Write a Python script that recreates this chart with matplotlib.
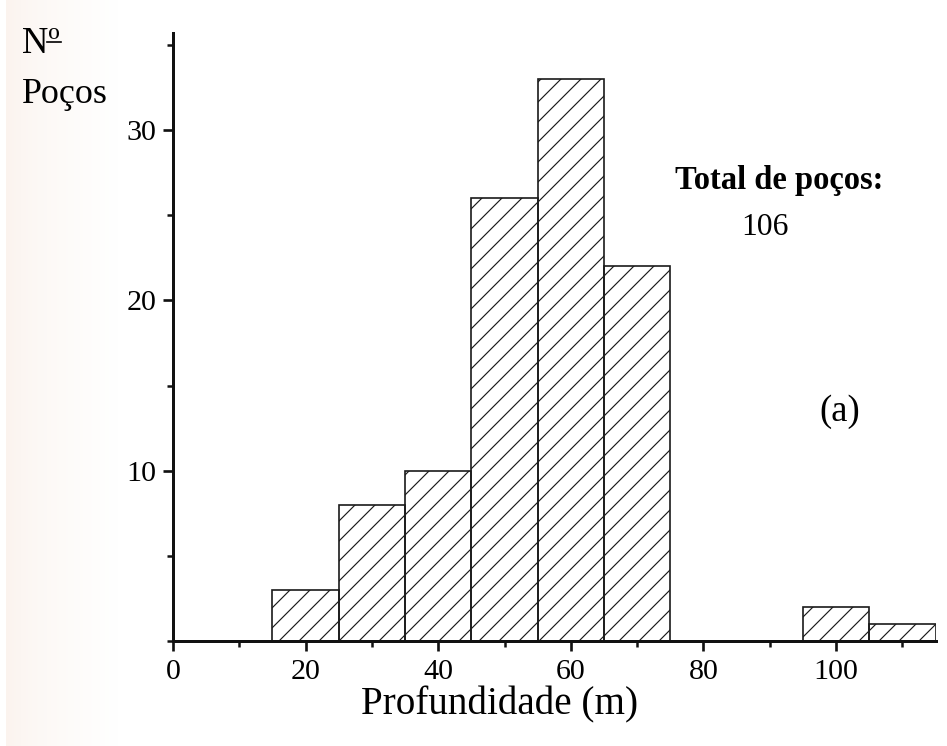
import numpy as np
import matplotlib.pyplot as plt
from matplotlib.lines import Line2D
from matplotlib.ticker import MultipleLocator

# histogram bins (left edges, width 10 m) and well counts
bin_left = [15, 25, 35, 45, 55, 65, 95, 105]
counts = [3, 8, 10, 26, 33, 22, 2, 1]
bin_width = 10
total_wells = 106

plt.rcParams['font.family'] = ['Liberation Serif', 'DejaVu Serif']
plt.rcParams['hatch.linewidth'] = 0.7
plt.rcParams['hatch.color'] = '#333333'

DPI = 120
W, H = 947, 746
fig = plt.figure(figsize=(W / DPI, H / DPI), dpi=DPI)


def fx(x):
    return x / W


def fy(y):
    return 1 - y / H


# faint paper tint on the left edge of the scan
bg = fig.add_axes([0, 0, 1, 1], zorder=-10)
grad = np.ones((2, W, 3))
x = np.arange(W)
tint = np.clip((x - 8) / 110.0, 0, 1) ** 0.7
grad[:, :, 0] = 0.985 + 0.015 * tint
grad[:, :, 1] = 0.955 + 0.045 * tint
grad[:, :, 2] = 0.935 + 0.065 * tint
grad[:, :6, :] = 1.0
bg.imshow(grad, aspect='auto', extent=[0, W, 0, 1])
bg.set_xlim(0, W)
bg.set_ylim(0, 1)
bg.axis('off')

ax = fig.add_axes([fx(173), fy(641), fx(935.5 - 173), (641 - 33) / H])
ax.patch.set_alpha(0)

ax.bar(bin_left, counts, width=bin_width, align='edge', facecolor='none',
       edgecolor='#1a1a1a', linewidth=1.0, hatch='//')

ax.set_xlim(0, 115)
ax.set_ylim(0, 35.7)

for s in ['top', 'right']:
    ax.spines[s].set_visible(False)
for s in ['left', 'bottom']:
    ax.spines[s].set_linewidth(1.8)
    ax.spines[s].set_color('#111111')

ax.xaxis.set_major_locator(MultipleLocator(20))
ax.xaxis.set_minor_locator(MultipleLocator(10))
ax.yaxis.set_major_locator(MultipleLocator(10))
ax.yaxis.set_minor_locator(MultipleLocator(5))
ax.set_yticks([10, 20, 30])
ax.tick_params(axis='both', which='major', direction='out', length=6, width=1.6,
               labelsize=18, color='#111111')
ax.tick_params(axis='x', which='major', pad=5)
ax.tick_params(axis='y', which='major', pad=4)
ax.tick_params(axis='both', which='minor', direction='out', length=3.5, width=1.5,
               color='#111111')

# axis titles
fig.text(fx(500), fy(714), 'Profundidade (m)', fontsize=23.5, ha='center', va='baseline')
fig.text(fx(22), fy(53), 'Nº', fontsize=22, ha='left', va='baseline')
fig.add_artist(Line2D([fx(47), fx(61)], [fy(42), fy(42)],
                      transform=fig.transFigure, color='black', linewidth=1.0))
fig.text(fx(22), fy(103), 'Poços', fontsize=21.5, ha='left', va='baseline')

# annotations
fig.text(fx(779), fy(189), 'Total de poços:', fontsize=19.5, fontweight='bold',
         ha='center', va='baseline')
fig.text(fx(765), fy(235), str(total_wells), fontsize=19, ha='center', va='baseline')
fig.text(fx(840), fy(421), '(a)', fontsize=22, ha='center', va='baseline')

fig.savefig('out.png', dpi=DPI)
